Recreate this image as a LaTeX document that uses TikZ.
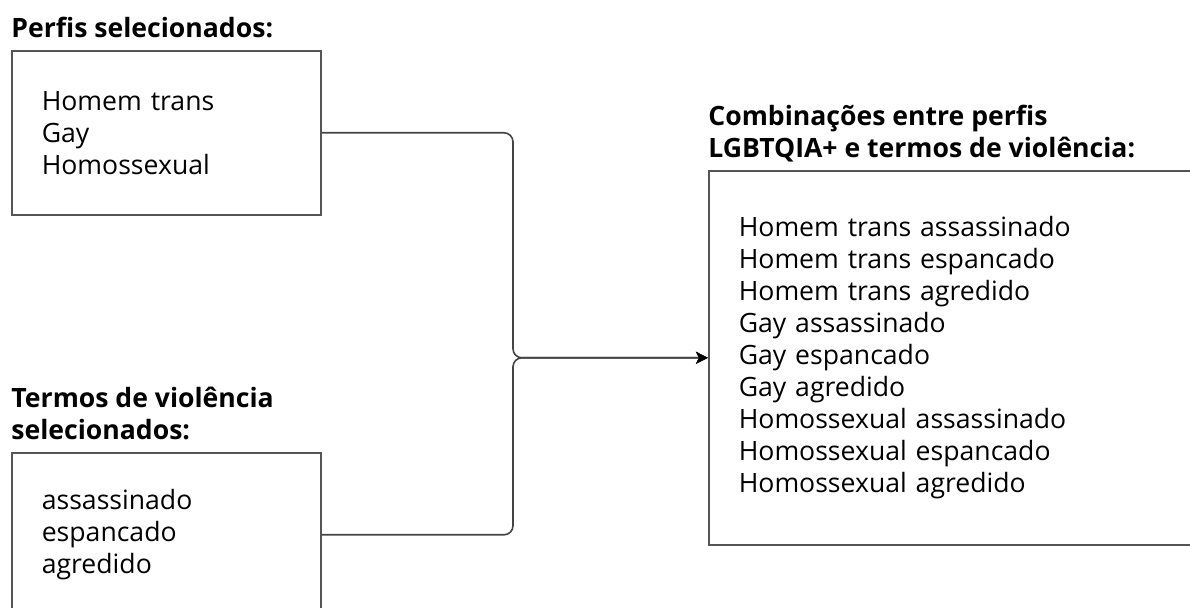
\documentclass[tikz,border=0pt]{standalone}
\usepackage{fontspec}
\setmainfont{Open Sans}
\definecolor{edge}{HTML}{555555}
\usetikzlibrary{arrows.meta, positioning}
\tikzset{
  box/.style={draw=edge, line width=0.8pt, anchor=north west, align=left, inner xsep=15pt, inner ysep=0pt,
              font=\fontsize{13.3}{16}\selectfont},
  hdr/.style={font=\fontsize{13.3}{16}\selectfont\bfseries, align=left, inner sep=0pt, text depth=0pt},
  flow/.style={-{Stealth[length=6pt,width=6pt,inset=1.5pt,black]}, line width=0.8pt, draw=edge!80!black, rounded corners=4.5pt},
}
\begin{document}
\begin{tikzpicture}[x=0.5pt,y=-0.5pt]
  \useasboundingbox (0,0) rectangle (1190,608);
  \clip (0,0) rectangle (1190,608);
  % boxes
  \node[box, text width=124.5pt, minimum height=82pt] (perfis) at (11,50) {Homem trans\\Gay\\Homossexual};
  \node[box, text width=124.5pt, minimum height=82pt] (termos) at (11,452) {assassinado\\espancado\\agredido};
  \node[box, text width=250pt, minimum height=187pt] (comb) at (708,170)
    {Homem trans assassinado\\Homem trans espancado\\Homem trans agredido\\
     Gay assassinado\\Gay espancado\\Gay agredido\\
     Homossexual assassinado\\Homossexual espancado\\Homossexual agredido};
  % headings
  \node[hdr, above=6pt of perfis.north west, anchor=south west] (perfistit) {Perfis selecionados:};
  \node[hdr, above=6pt of termos.north west, anchor=south west] (termostit) {Termos de violência\\selecionados:};
  \node[hdr, above=6pt of comb.north west, anchor=south west] (combtit) {Combinações entre perfis\\LGBTQIA+ e termos de violência:};
  % connectors
  \path (comb.west) ++(-195,0) coordinate (joint);
  \draw[flow] (perfis.east) -| (joint) -- (comb.west);
  \draw[flow] (termos.east) -| (joint) -- (comb.west);
\end{tikzpicture}
\end{document}
